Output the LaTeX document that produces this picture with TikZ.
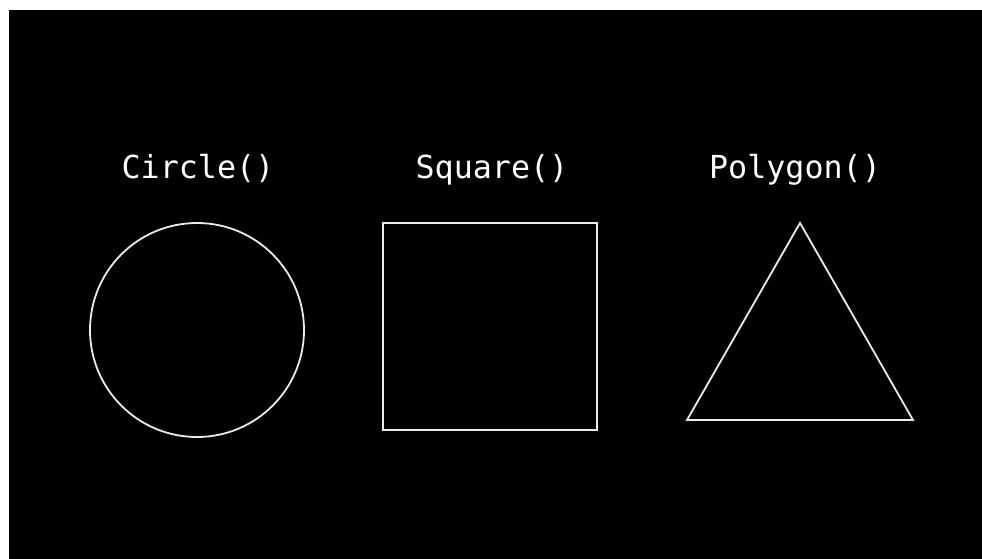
\documentclass[tikz,border=0pt]{standalone}
\usepackage{fontspec}
\setmonofont{DejaVu Sans Mono}
\begin{document}
\begin{tikzpicture}[x=1pt,y=-1pt,
  shape line/.style={draw=white!92!black,line width=1.8pt},
  label text/.style={text=white,font=\ttfamily\fontsize{31.7}{32}\selectfont,inner sep=0pt,anchor=base}]
\useasboundingbox (0,0) rectangle (982,559);
\fill[white] (0,0) rectangle (982,559);
\fill[black] (9,10) rectangle (982,559);
\node[label text] (lc) at (198,178) {Circle()};
\node[label text] (ls) at (492,178) {Square()};
\node[label text] (lp) at (795,178) {Polygon()};
\draw[shape line] (197,330) circle[radius=107];
\draw[shape line] (383,223) rectangle (597,430);
\coordinate (pa) at (800,223);
\coordinate (pb) at (913,420);
\coordinate (pc) at (687,420);
\draw[shape line,line join=miter] (pa) -- (pb) -- (pc) -- cycle;
\end{tikzpicture}
\end{document}
